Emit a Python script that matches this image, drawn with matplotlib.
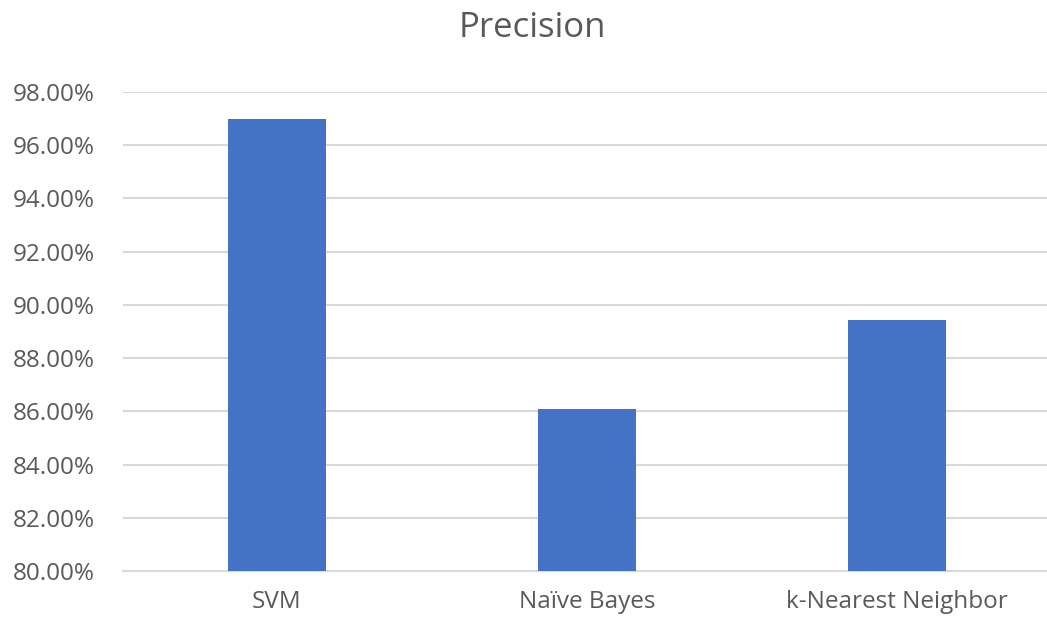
import matplotlib.pyplot as plt
from matplotlib.ticker import FuncFormatter, MultipleLocator

# classifier precision scores (%)
models = ["SVM", "Naïve Bayes", "k-Nearest Neighbor"]
precision = [97.0, 86.07, 89.45]

plt.rcParams['font.family'] = ['Open Sans', 'DejaVu Sans']
text_color = '#595959'

fig = plt.figure(figsize=(10.47, 6.21), dpi=100)
ax = fig.add_axes([123 / 1047, 1 - 571 / 621, 1 - 123 / 1047, (571 - 92) / 621])

ax.bar(range(len(models)), precision, width=0.316, color='#4472C4', zorder=3, bottom=0)
ax.set_ylim(80, 98)
ax.set_xlim(-0.497, 2.484)
ax.yaxis.set_major_locator(MultipleLocator(2))
ax.yaxis.set_major_formatter(FuncFormatter(lambda v, _: f"{v:.2f}%"))
ax.set_xticks(range(len(models)))
ax.set_xticklabels(models)

ax.grid(axis='y', color='#D9D9D9', linewidth=1.5, zorder=0)
for s in ['top', 'right', 'left']:
    ax.spines[s].set_visible(False)
ax.spines['bottom'].set_color('#D9D9D9')
ax.spines['bottom'].set_linewidth(1.5)
ax.tick_params(axis='both', length=0, labelsize=17.5, colors=text_color)
ax.tick_params(axis='y', pad=20)
ax.tick_params(axis='x', pad=14)
ax.set_axisbelow(True)

fig.text(532 / 1047, 1 - 28 / 621, "Precision", ha='center', va='center',
         fontsize=25, color=text_color)

fig.savefig('out.png', dpi=100)
